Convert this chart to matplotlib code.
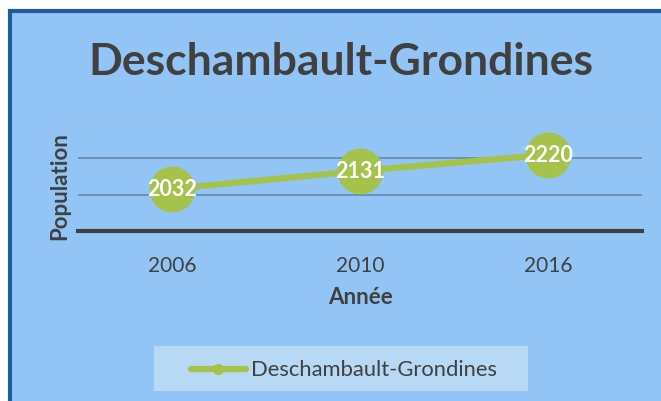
import matplotlib
matplotlib.use("Agg")
import matplotlib.pyplot as plt
from matplotlib.patches import Rectangle
from matplotlib.lines import Line2D

years = ["2006", "2010", "2016"]
population = [2032, 2131, 2220]
series_name = "Deschambault-Grondines"
title = "Deschambault-Grondines"
xlabel = "Année"
ylabel = "Population"

W, H = 661, 402
fig = plt.figure(figsize=(W / 100, H / 100), dpi=100)
fig.patch.set_facecolor("white")

bg = "#92C5F5"
green = "#A5C24A"
font = "Lato"

# chart area background with border
fig.patches.append(Rectangle((10 / W, -0.05), 1.1, (H - 12) / H + 0.05,
                             transform=fig.transFigure, facecolor=bg,
                             edgecolor="#1F5C9E", linewidth=3, zorder=0))

ax = fig.add_axes([78 / W, (H - 232) / H, 564 / W, (232 - 123) / H])
ax.set_zorder(5)
ax.set_facecolor("none")
ax.set_xlim(-0.5, len(years) - 0.5)
ax.set_ylim(1800, 2400)
for s in ax.spines.values():
    s.set_visible(False)
ax.axhline(2400, color="#A7BCD2", lw=1.2, zorder=1)
for g in (2000, 2200):
    ax.axhline(g, color="#6A8DB0", lw=1.3, zorder=1)
ax.axhline(1800, color="#404040", lw=3, zorder=2, clip_on=False)
ax.set_yticks([])
x = list(range(len(years)))
ax.plot(x, population, color=green, lw=4.5, marker="o", markersize=32,
        markerfacecolor=green, markeredgecolor=green, zorder=3, clip_on=False)
for xi, v in zip(x, population):
    ax.text(xi, v, str(v), ha="center", va="center", color="white",
            fontsize=15.5, fontweight="bold", family=font, zorder=4)
ax.set_xticks(x)
ax.set_xticklabels(years, fontsize=15, color="#404040", family=font)
ax.tick_params(axis="x", length=0, pad=17)

fig.text(360 / W, 1 - 298 / H, xlabel, ha="center", va="center",
         fontsize=16, fontweight="bold", color="#404040", family=font, zorder=6)
fig.text(60 / W, 1 - 186 / H, ylabel, ha="center", va="center", rotation=90,
         fontsize=16, fontweight="bold", color="#404040", family=font, zorder=6)
fig.text(341 / W, 1 - 62 / H, title, ha="center", va="center",
         fontsize=32, fontweight="bold", color="#404040", family=font, zorder=6)

# legend
fig.patches.append(Rectangle((154 / W, 1 - 392 / H), (528 - 154) / W, 45 / H,
                             transform=fig.transFigure, facecolor="#B8D9F6",
                             edgecolor="none", zorder=1))
fig.lines.append(Line2D([191 / W, 246 / W], [1 - 370 / H] * 2,
                        transform=fig.transFigure, color=green, lw=4.5,
                        solid_capstyle="round", zorder=2))
fig.lines.append(Line2D([218 / W], [1 - 369.5 / H], transform=fig.transFigure,
                        marker="o", markersize=7, color=green, zorder=2))
fig.text(251 / W, 1 - 370 / H, series_name, ha="left", va="center",
         fontsize=15.8, color="#404040", family=font, zorder=6)

fig.savefig("out.png", dpi=100)
